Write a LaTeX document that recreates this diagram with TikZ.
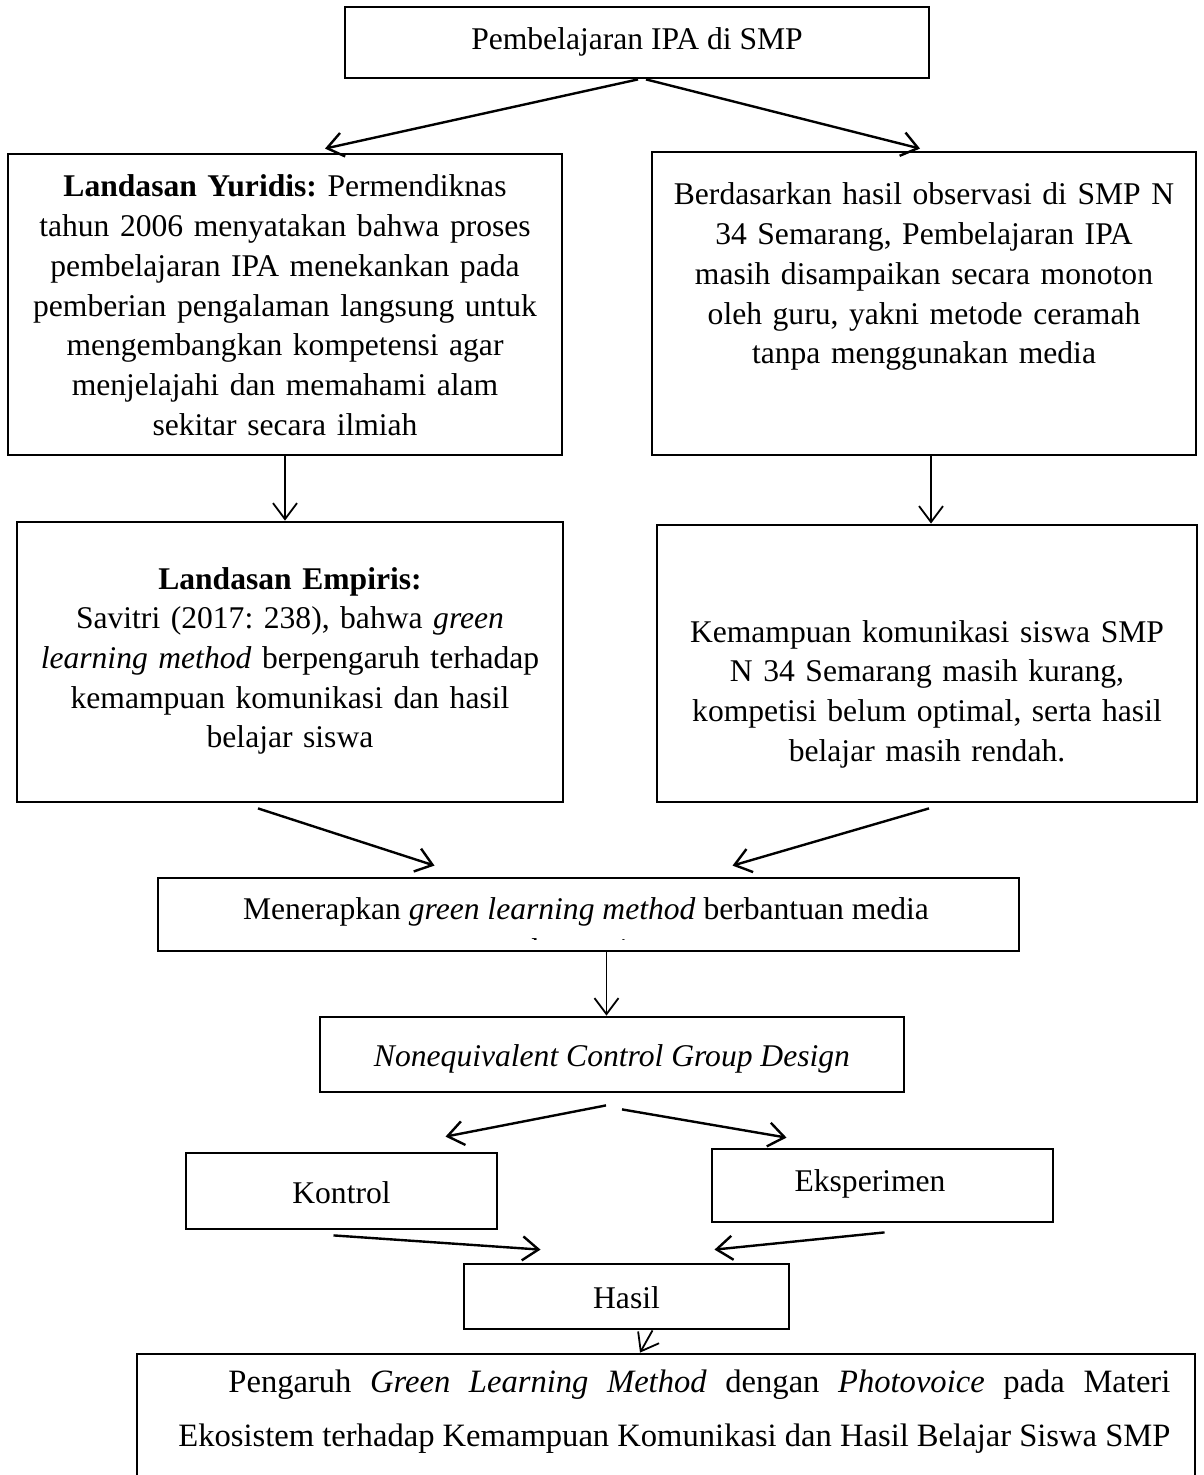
\documentclass[tikz,border=0pt]{standalone}
\usepackage{fontspec}
\setmainfont{Liberation Serif}
\usetikzlibrary{arrows.meta, positioning}
\tikzset{
  >={Straight Barb[length=8pt,width=12pt]},
  box/.style={draw, line width=1.4pt, inner sep=0pt},
  txt/.style={inner sep=0pt, align=center, anchor=base},
  arr/.style={->, line width=1.2pt},
  varr/.style={->, line width=0.9pt},
}

\begin{document}
\begin{tikzpicture}[x=0.5pt, y=-0.5pt, font=\fontsize{15.8}{19.85}\selectfont\frenchspacing]
  \useasboundingbox (0,0) rectangle (1203,1475);

  % boxes
  \node[box, minimum width=292pt, minimum height=35.5pt] (pembelajaran) at (637,42.5) {};
  \node[box, minimum width=277pt, minimum height=150.5pt] (yuridis) at (285,304.5) {};
  \node[box, minimum width=272pt, minimum height=151.5pt] (observasi) at (924,303.5) {};
  \node[box, minimum width=273pt, minimum height=140pt] (empiris) at (290,662) {};
  \node[box, minimum width=270pt, minimum height=138.5pt] (kemampuan) at (927,663.5) {};
  \node[box, minimum width=430.5pt, minimum height=36.5pt] (menerapkan) at (588.5,914.5) {};
  \node[box, minimum width=292pt, minimum height=37.5pt] (design) at (612,1054.5) {};
  \node[box, minimum width=155.5pt, minimum height=38pt] (kontrol) at (341.5,1191) {};
  \node[box, minimum width=170.5pt, minimum height=36.5pt] (eksperimen) at (882.5,1185.5) {};
  \node[box, minimum width=162.5pt, minimum height=32.5pt] (hasil) at (626.5,1296.5) {};
  \node[box, minimum width=529pt, minimum height=70.5pt] (pengaruh) at (666,1424.5) {};

  % texts
  \node[txt] (pembelajaran-t) at (637,50) {Pembelajaran IPA di SMP};
  \node[txt, text width=270pt] (yuridis-t) at (285,197) {%
    \textbf{Landasan Yuridis:} Permendiknas\\
    tahun 2006 menyatakan bahwa proses\\
    pembelajaran IPA menekankan pada\\
    pemberian pengalaman langsung untuk\\
    mengembangkan kompetensi agar\\
    menjelajahi dan memahami alam\\
    sekitar secara ilmiah};
  \node[txt, text width=265pt] (observasi-t) at (924,205) {%
    Berdasarkan hasil observasi di SMP N\\
    34 Semarang, Pembelajaran IPA\\
    masih disampaikan secara monoton\\
    oleh guru, yakni metode ceramah\\
    tanpa menggunakan media};
  \node[txt, text width=268pt] (empiris-t) at (290,589) {%
    \textbf{Landasan Empiris:}\\
    Savitri (2017: 238), bahwa \textit{green}\\
    \textit{learning method} berpengaruh terhadap\\
    kemampuan komunikasi dan hasil\\
    belajar siswa};
  \node[txt, text width=265pt] (kemampuan-t) at (927,642) {%
    Kemampuan komunikasi siswa SMP\\
    N 34 Semarang masih kurang,\\
    kompetisi belum optimal, serta hasil\\
    belajar masih rendah.};
  \node[txt] (menerapkan-t) at (586,919) {Menerapkan \textit{green learning method} berbantuan media};
  \begin{scope}
    \clip (menerapkan.north west) rectangle ([yshift=6.5pt]menerapkan.south east);
    \node[txt] (menerapkan-t2) at (586,960) {photovoice};
  \end{scope}
  \node[txt] (design-t) at (612,1066) {\textit{Nonequivalent Control Group Design}};
  \node[txt] (kontrol-t) at (341.5,1203) {Kontrol};
  \node[txt] (eksperimen-t) at (870,1191) {Eksperimen};
  \node[txt] (hasil-t) at (626.5,1308) {Hasil};
  \node[inner sep=0pt, anchor=base west, text width=496pt, align=justify,
        font=\fontsize{16.3}{27}\selectfont] (pengaruh-t) at (178,1392) {%
    \hyphenpenalty=10000 \tolerance=10000
    \hspace*{25pt}Pengaruh \textit{Green Learning Method} dengan \textit{Photovoice} pada Materi\linebreak
    Ekosistem terhadap Kemampuan Komunikasi dan Hasil Belajar Siswa SMP};

  % connectors
  \draw[arr] ([xshift=0.5pt]pembelajaran.south) -- ([xshift=20pt,yshift=2pt]yuridis.north);
  \draw[arr] ([xshift=4.5pt]pembelajaran.south) -- ([xshift=-2pt,yshift=1pt]observasi.north);
  \draw[varr] (yuridis.south) -- (yuridis.south |- empiris.north);
  \draw[varr] ([xshift=3.5pt]observasi.south) -- ([xshift=3.5pt]observasi.south |- kemampuan.north);
  \draw[arr] ([xshift=-16pt,yshift=-2.5pt]empiris.south) -- ([xshift=-77pt,yshift=5.5pt]menerapkan.north);
  \draw[arr] ([xshift=1pt,yshift=-2.5pt]kemampuan.south) -- ([xshift=72pt,yshift=5.5pt]menerapkan.north);
  \draw[varr] ([xshift=9pt]menerapkan.south) -- ([xshift=9pt]menerapkan.south |- design.north);
  \draw[arr] ([xshift=-3pt,yshift=-6pt]design.south) -- ([xshift=52pt,yshift=7.5pt]kontrol.north);
  \draw[arr] ([xshift=5pt,yshift=-8pt]design.south) -- ([xshift=-48pt,yshift=5pt]eksperimen.north);
  \draw[arr] ([xshift=-4pt,yshift=-2.5pt]kontrol.south) -- ([xshift=-43pt,yshift=6.5pt]hasil.north);
  \draw[arr] ([xshift=1pt,yshift=-4.5pt]eksperimen.south) -- ([xshift=44pt,yshift=6.5pt]hasil.north);
  \draw[varr] ([xshift=13pt]hasil.south) -- ([xshift=-13pt]pengaruh.north);
\end{tikzpicture}
\end{document}
